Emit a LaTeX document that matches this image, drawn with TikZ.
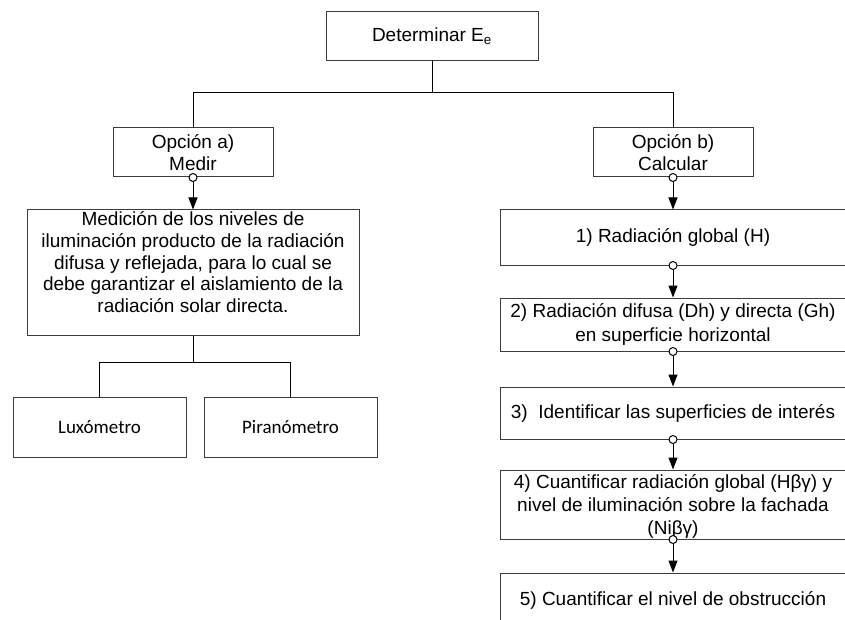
\documentclass[tikz,border=0pt]{standalone}
\usepackage{fontspec}
\setmainfont{Liberation Sans}
\newfontfamily\calibri{Carlito}
\usetikzlibrary{arrows.meta}
\definecolor{edge}{RGB}{60,60,60}
\tikzset{box/.style={draw=edge,line width=0.75pt,inner sep=0pt,align=center},
         optbox/.style={box,minimum width=120pt,minimum height=36.75pt},
         stepbox/.style={box,minimum width=259.5pt,font=\fontsize{14.25}{17.6}\selectfont},
         toolbox/.style={box,minimum width=129.75pt,minimum height=45pt,font=\calibri\fontsize{14.25}{16.5}\selectfont},
         branch/.style={draw=black,line width=0.75pt},
         flow/.style={branch,{Circle[open,fill=white,length=6.75pt,width=6.75pt]}-{Triangle[length=9pt,width=6.75pt]},shorten <=-3.375pt}}

\begin{document}
\begin{tikzpicture}[x=0.75pt,y=-0.75pt,font=\fontsize{14.25}{16.3}\selectfont]
  \useasboundingbox (0,0) rectangle (845,620);
  \clip (0,0) rectangle (845,620);
  \node[box,minimum width=159pt,minimum height=36.75pt] (goal) at (432,36.5) {Determinar E\textsubscript{e}};
  \node[optbox] (medir) at (193,152.5) {Opción a)\\Medir};
  \node[optbox] (calc) at (673,152.5) {Opción b)\\Calcular};
  \coordinate (split) at (432,93);
  \draw[branch] (goal.south) -- (split) -| (medir.north);
  \draw[branch] (split) -| (calc.north);

  \node[box,minimum width=249pt,minimum height=93.75pt] (medicion) at (193,272.5) {};
  \node[anchor=north,align=center,inner sep=0pt] at ([yshift=-1.5pt]medicion.north)
    {Medición de los niveles de\\iluminación producto de la radiación\\difusa y reflejada, para lo cual se\\debe garantizar el aislamiento de la\\radiación solar directa.};
  \draw[flow] (medir.south) -- (medicion.north);
  \node[toolbox] (luxo) at (99.5,427) {Luxómetro};
  \node[toolbox] (pira) at (290.5,427) {Piranómetro};
  \coordinate (fork) at (193,362);
  \draw[branch] (medicion.south) -- (fork) -| (luxo.north);
  \draw[branch] (fork) -| (pira.north);

  \node[stepbox,minimum height=41.25pt] (global) at (673,237.5) {1) Radiación global (H)};
  \node[stepbox,minimum height=39.75pt] (difusa) at (673,324.5) {2) Radiación difusa (Dh) y directa (Gh)\\en superficie horizontal};
  \node[stepbox,minimum height=39pt] (superf) at (673,413) {3)\ \ Identificar las superficies de interés};
  \node[stepbox,minimum height=51.75pt] (fachada) at (673,504.5) {};
  \node[align=center,inner sep=0pt,font=\fontsize{14.25}{17.6}\selectfont] at (673,506.5)
    {4) Cuantificar radiación global (Hβγ) y\\nivel de iluminación sobre la fachada\\(Niβγ)};
  \node[stepbox,minimum height=41.25pt] (obstr) at (673,600.5) {5) Cuantificar el nivel de obstrucción};
  \draw[flow] (calc.south) -- (global.north);
  \draw[flow] (global.south) -- (difusa.north);
  \draw[flow] (difusa.south) -- (superf.north);
  \draw[flow] (superf.south) -- (fachada.north);
  \draw[flow] (fachada.south) -- (obstr.north);
\end{tikzpicture}
\end{document}
